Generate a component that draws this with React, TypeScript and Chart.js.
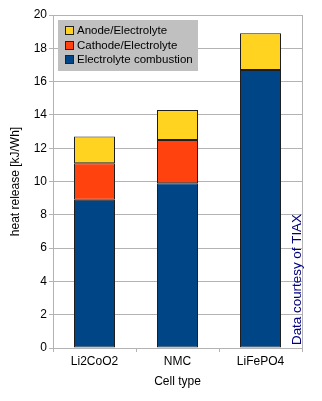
import React, { useEffect, useRef } from "react";
import { Chart, registerables } from "chart.js";

Chart.register(...registerables);

const categories = ["Li2CoO2", "NMC", "LiFePO4"];
const electrolyteCombustion = [8.9, 9.9, 16.7];
const cathodeElectrolyte = [2.2, 2.6, null];
const anodeElectrolyte = [1.6, 1.8, 2.2];
const seriesLabels = ["Electrolyte combustion", "Cathode/Electrolyte", "Anode/Electrolyte"];
const seriesColors = ["#004586", "#ff420e", "#ffd320"];
const yTitle = "heat release [kJ/Wh]";
const xTitle = "Cell type";
const credit = "Data courtesy of TIAX";

const FONT = "'Liberation Sans', Arial, sans-serif";

const extrasPlugin = {
  id: "extras",
  afterDraw(chart: any) {
    const ctx = chart.ctx;
    const a = chart.chartArea;
    ctx.save();
    // right border of plot
    ctx.strokeStyle = "#b3b3b3";
    ctx.lineWidth = 1;
    ctx.beginPath();
    ctx.moveTo(Math.round(a.right) + 0.5, a.top);
    ctx.lineTo(Math.round(a.right) + 0.5, a.bottom);
    ctx.stroke();

    // legend box
    const lx = a.left + 5;
    const ly = a.top + 5;
    const lw = 140;
    const lh = 51;
    ctx.fillStyle = "#c0c0c0";
    ctx.fillRect(lx, ly, lw, lh);
    const ds = chart.data.datasets.slice().reverse();
    ctx.font = `11.5px ${FONT}`;
    ctx.textBaseline = "middle";
    ds.forEach((d: any, i: number) => {
      const cy = Math.round(ly + 10 + i * 14.5);
      ctx.fillStyle = d.backgroundColor;
      ctx.fillRect(lx + 7, cy - 4, 8, 8);
      ctx.strokeStyle = "#222";
      ctx.lineWidth = 1;
      ctx.strokeRect(lx + 7.5, cy - 3.5, 8, 8);
      ctx.fillStyle = "#000";
      ctx.textAlign = "left";
      ctx.fillText(d.label, lx + 19, cy + 0.5);
    });

    // credit text
    ctx.translate(a.right - 5, a.bottom - 3);
    ctx.rotate(-Math.PI / 2);
    ctx.font = `13.4px ${FONT}`;
    ctx.fillStyle = "#000080";
    ctx.textAlign = "left";
    ctx.textBaseline = "middle";
    ctx.fillText(credit, 0, 0);
    ctx.restore();
  },
};

export default function App() {
  const ref = useRef<HTMLCanvasElement>(null);
  useEffect(() => {
    if (!ref.current) return;
    const values = [electrolyteCombustion, cathodeElectrolyte, anodeElectrolyte];
    const chart = new Chart(ref.current, {
      type: "bar",
      data: {
        labels: categories,
        datasets: values.map((v, i) => ({
          label: seriesLabels[i],
          data: v,
          backgroundColor: seriesColors[i],
          borderColor: "#1e1e1e",
          borderWidth: 1,
          borderSkipped: false,
          inflateAmount: 0,
          categoryPercentage: 1,
          barPercentage: 41 / 83,
        })),
      },
      options: {
        animation: false,
        responsive: false,
        maintainAspectRatio: false,
        layout: { padding: { top: 15, right: 20, bottom: 0, left: 0 } },
        plugins: { legend: { display: false }, tooltip: { enabled: false } },
        scales: {
          x: {
            stacked: true,
            grid: {
              drawOnChartArea: false,
              drawTicks: true,
              tickLength: 4,
              color: "#b3b3b3",
              offset: true,
            },
            border: { color: "#b3b3b3" },
            ticks: { color: "#000", font: { family: FONT, size: 12 }, padding: 2 },
            title: {
              display: true,
              text: xTitle,
              color: "#000",
              font: { family: FONT, size: 12 },
              padding: { top: 0, bottom: 12 },
            },
            afterFit: (s: any) => {
              s.height = 53;
            },
          },
          y: {
            stacked: true,
            min: 0,
            max: 20,
            grid: { color: "#b3b3b3", tickLength: 4 },
            border: { color: "#b3b3b3" },
            ticks: { stepSize: 2, color: "#000", font: { family: FONT, size: 12 }, padding: 2 },
            title: {
              display: true,
              text: yTitle,
              color: "#000",
              font: { family: FONT, size: 12 },
              padding: { top: 8, bottom: 0 },
            },
            afterFit: (s: any) => {
              s.width = 53;
            },
          },
        },
      },
      plugins: [extrasPlugin],
    });
    return () => chart.destroy();
  }, []);
  return (
    <div style={{ position: "fixed", left: 0, top: 0, width: 322, height: 401, background: "#fff" }}>
      <canvas ref={ref} width={322} height={401} style={{ display: "block" }} />
    </div>
  );
}
